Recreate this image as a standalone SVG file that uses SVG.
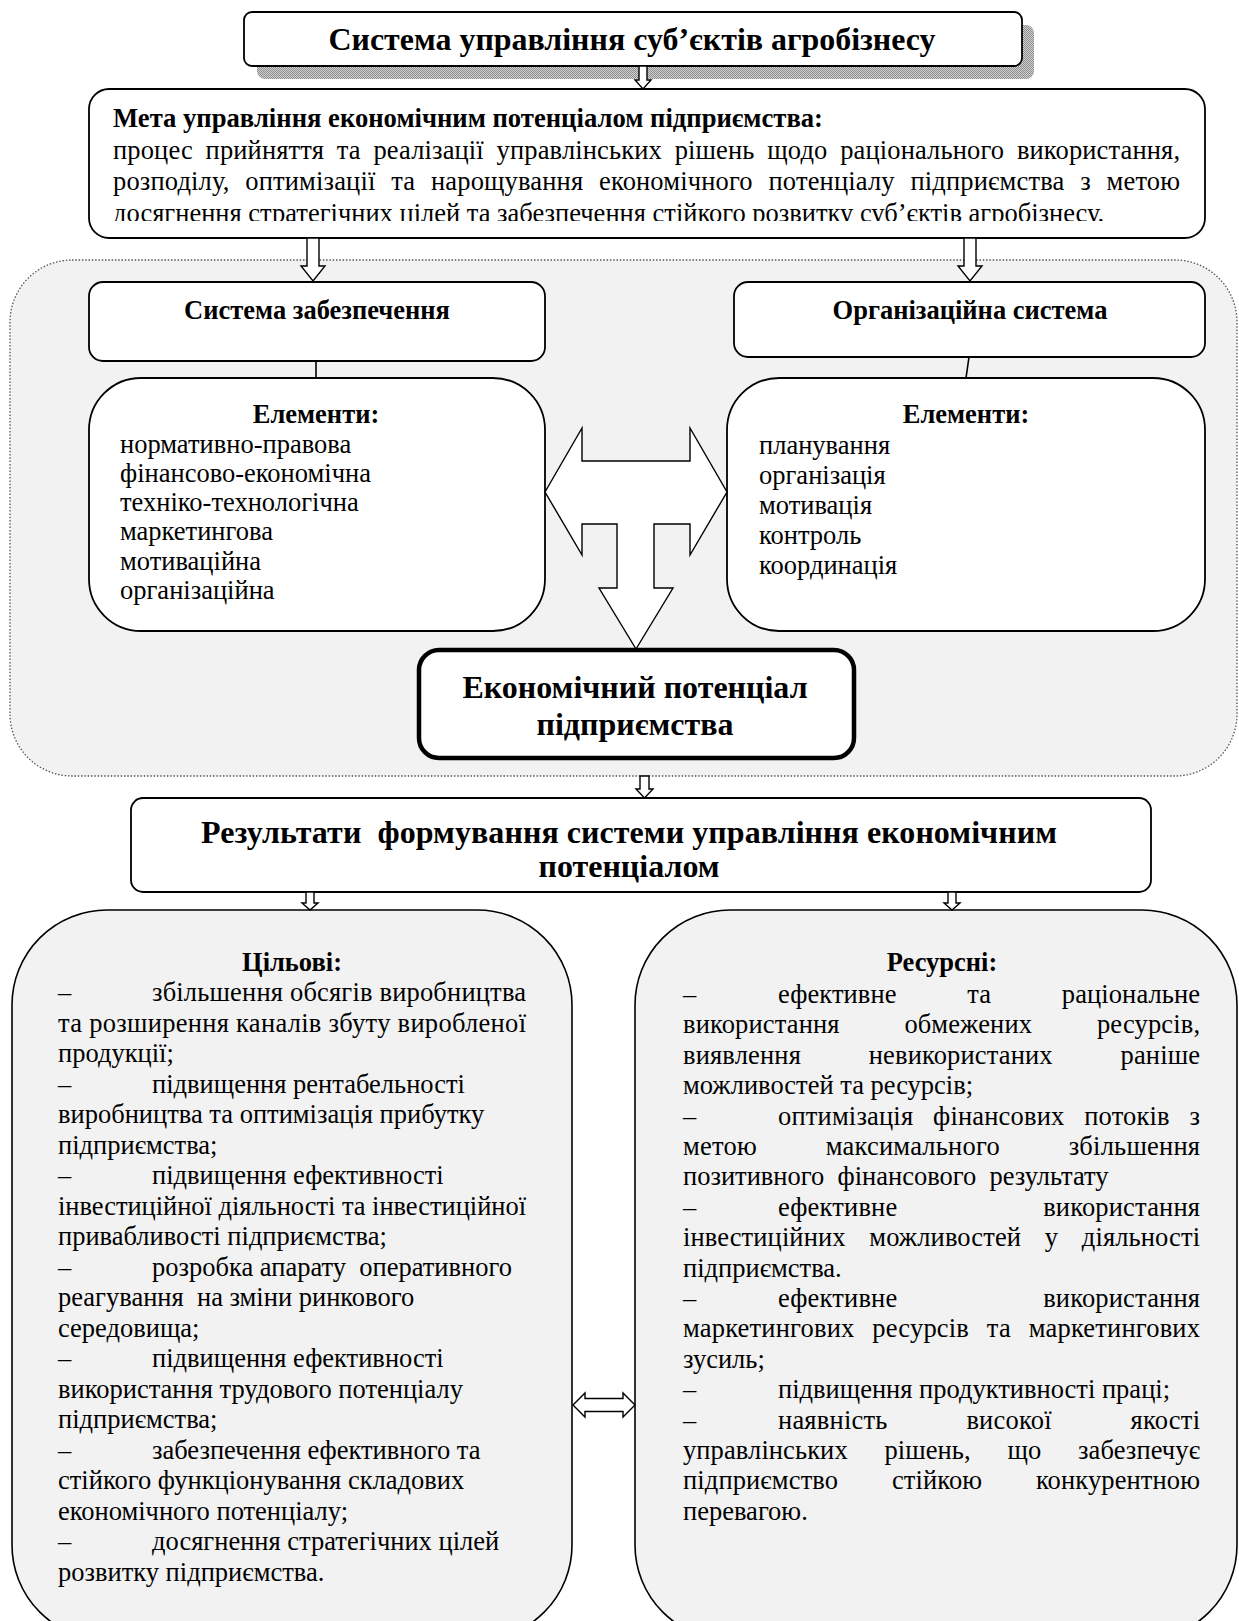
<svg xmlns="http://www.w3.org/2000/svg" width="1239" height="1621" viewBox="0 0 1239 1621">
<style>
.f{font-family:"Liberation Serif","Times New Roman",serif;fill:#000}
.r{font-size:26.5px}
.hb{font-size:26.5px;font-weight:bold}
.h32{font-size:32px;font-weight:bold}
.box{fill:#fff;stroke:#000;stroke-width:1.8}
.gbox{fill:#f2f2f2;stroke:#000;stroke-width:1.6}
.arr{fill:#fff;stroke:#000;stroke-width:1.4;stroke-linejoin:miter}
.ln{fill:none;stroke:#000;stroke-width:1.6}
.pre{white-space:pre}
.m{text-anchor:middle}
.e{text-anchor:end}
</style>
<defs>
<pattern id="half" width="2" height="2" patternUnits="userSpaceOnUse">
<rect width="2" height="2" fill="#d2d2d2"/>
<rect width="1" height="1" fill="#8c8c8c"/>
<rect x="1" y="1" width="1" height="1" fill="#8c8c8c"/>
</pattern>
<clipPath id="metaClip"><rect x="89" y="89" width="1116" height="132"/></clipPath>
</defs>

<g id="container">
<rect x="10" y="260" width="1227" height="516" rx="62" fill="#f2f2f2" stroke="#555" stroke-width="1.3" stroke-dasharray="1.5 1.8"/>
</g>

<g id="title">
<rect x="257" y="25" width="777" height="54" rx="8" fill="url(#half)"/>
<rect class="box" x="244" y="12" width="778" height="54" rx="8"/>
<text class="f h32 m" x="632" y="50" textLength="607" lengthAdjust="spacingAndGlyphs">Система управління суб’єктів агробізнесу</text>
</g>

<g id="meta">
<rect class="box" x="89" y="89" width="1116" height="149" rx="20"/>
<g clip-path="url(#metaClip)">
<text class="f hb" x="113" y="127" textLength="710" lengthAdjust="spacingAndGlyphs">Мета управління економічним потенціалом підприємства:</text>
<text class="f r" x="113" y="159" textLength="1067" lengthAdjust="spacing" style="word-spacing:6px">процес прийняття та реалізації управлінських рішень щодо раціонального використання,</text>
<text class="f r" x="113" y="190" textLength="1067" lengthAdjust="spacing" style="word-spacing:9px">розподілу, оптимізації та нарощування економічного потенціалу підприємства з метою</text>
<text class="f r" x="113" y="222">досягнення стратегічних цілей та забезпечення стійкого розвитку суб’єктів агробізнесу.</text>
</g>
</g>

<g id="sys-zabezp">
<rect class="box" x="89" y="282" width="456" height="79" rx="14"/>
<text class="f hb m" x="317" y="319">Система забезпечення</text>
</g>

<g id="sys-org">
<rect class="box" x="734" y="282" width="471" height="75" rx="14"/>
<text class="f hb m" x="970" y="319">Організаційна система</text>
</g>

<g id="elem-left">
<rect class="box" x="89" y="378" width="456" height="253" rx="52"/>
<text class="f hb m" x="316" y="423">Елементи:</text>
<text class="f r" x="120" y="453">нормативно-правова</text>
<text class="f r" x="120" y="482">фінансово-економічна</text>
<text class="f r" x="120" y="511">техніко-технологічна</text>
<text class="f r" x="120" y="540">маркетингова</text>
<text class="f r" x="120" y="570">мотиваційна</text>
<text class="f r" x="120" y="599">організаційна</text>
</g>

<g id="elem-right">
<rect class="box" x="727" y="378" width="478" height="253" rx="52"/>
<text class="f hb m" x="966" y="423">Елементи:</text>
<text class="f r" x="759" y="454">планування</text>
<text class="f r" x="759" y="484">організація</text>
<text class="f r" x="759" y="514">мотивація</text>
<text class="f r" x="759" y="544">контроль</text>
<text class="f r" x="759" y="574">координація</text>
</g>

<g id="potential">
<rect x="419" y="650" width="435" height="108" rx="20" fill="#fff" stroke="#000" stroke-width="4.5"/>
<text class="f h32 m" x="635" y="698">Економічний потенціал</text>
<text class="f h32 m" x="635" y="735">підприємства</text>
</g>

<g id="results">
<rect class="box" x="131" y="798" width="1020" height="94" rx="12"/>
<text class="f h32" x="201" y="843" textLength="856" lengthAdjust="spacing" style="white-space:pre">Результати  формування системи управління економічним</text>
<text class="f h32 m" x="629" y="877">потенціалом</text>
</g>

<g id="tsilovi">
<rect class="gbox" x="12" y="910" width="560" height="730" rx="95"/>
<text class="f hb m" x="292" y="971">Цільові:</text>
<text class="f r" x="58" y="1001">–</text>
<text class="f r" x="152" y="1001" textLength="374" lengthAdjust="spacing">збільшення обсягів виробництва</text>
<text class="f r" x="58" y="1031.5" textLength="468" lengthAdjust="spacing">та розширення каналів збуту виробленої</text>
<text class="f r" x="58" y="1062">продукції;</text>
<text class="f r" x="58" y="1092.5">–</text>
<text class="f r" x="152" y="1092.5">підвищення рентабельності</text>
<text class="f r" x="58" y="1123">виробництва та оптимізація прибутку</text>
<text class="f r" x="58" y="1153.5">підприємства;</text>
<text class="f r" x="58" y="1184">–</text>
<text class="f r" x="152" y="1184">підвищення ефективності</text>
<text class="f r" x="58" y="1214.5" textLength="468" lengthAdjust="spacing">інвестиційної діяльності та інвестиційної</text>
<text class="f r" x="58" y="1245">привабливості підприємства;</text>
<text class="f r" x="58" y="1275.5">–</text>
<text class="f r pre" x="152" y="1275.5">розробка апарату  оперативного</text>
<text class="f r pre" x="58" y="1306">реагування  на зміни ринкового</text>
<text class="f r" x="58" y="1336.5">середовища;</text>
<text class="f r" x="58" y="1367">–</text>
<text class="f r" x="152" y="1367">підвищення ефективності</text>
<text class="f r" x="58" y="1397.5">використання трудового потенціалу</text>
<text class="f r" x="58" y="1428">підприємства;</text>
<text class="f r" x="58" y="1458.5">–</text>
<text class="f r" x="152" y="1458.5">забезпечення ефективного та</text>
<text class="f r" x="58" y="1489">стійкого функціонування складових</text>
<text class="f r" x="58" y="1519.5">економічного потенціалу;</text>
<text class="f r" x="58" y="1550">–</text>
<text class="f r" x="152" y="1550">досягнення стратегічних цілей</text>
<text class="f r" x="58" y="1580.5">розвитку підприємства.</text>
</g>

<g id="resursni">
<rect class="gbox" x="635" y="910" width="602" height="730" rx="95"/>
<text class="f hb m" x="942" y="971">Ресурсні:</text>
<text class="f r" x="683" y="1003">–</text>
<text class="f r" x="778" y="1003" textLength="422" lengthAdjust="spacing" style="word-spacing:64px">ефективне та раціональне</text>
<text class="f r" x="683" y="1033.4" textLength="517" lengthAdjust="spacing" style="word-spacing:58px">використання обмежених ресурсів,</text>
<text class="f r" x="683" y="1063.8" textLength="517" lengthAdjust="spacing" style="word-spacing:61px">виявлення невикористаних раніше</text>
<text class="f r" x="683" y="1094.2">можливостей та ресурсів;</text>
<text class="f r" x="683" y="1124.6">–</text>
<text class="f r" x="778" y="1124.6" textLength="422" lengthAdjust="spacing" style="word-spacing:13px">оптимізація фінансових потоків з</text>
<text class="f r" x="683" y="1155" textLength="517" lengthAdjust="spacing" style="word-spacing:62px">метою максимального збільшення</text>
<text class="f r pre" x="683" y="1185.4">позитивного  фінансового  результату</text>
<text class="f r" x="683" y="1215.8">–</text>
<text class="f r" x="778" y="1215.8" textLength="422" lengthAdjust="spacing" style="word-spacing:139px">ефективне використання</text>
<text class="f r" x="683" y="1246.2" textLength="517" lengthAdjust="spacing" style="word-spacing:17px">інвестиційних можливостей у діяльності</text>
<text class="f r" x="683" y="1276.6">підприємства.</text>
<text class="f r" x="683" y="1307">–</text>
<text class="f r" x="778" y="1307" textLength="422" lengthAdjust="spacing" style="word-spacing:139px">ефективне використання</text>
<text class="f r" x="683" y="1337.4" textLength="517" lengthAdjust="spacing" style="word-spacing:11px">маркетингових ресурсів та маркетингових</text>
<text class="f r" x="683" y="1367.8">зусиль;</text>
<text class="f r" x="683" y="1398.2">–</text>
<text class="f r" x="778" y="1398.2">підвищення продуктивності праці;</text>
<text class="f r" x="683" y="1428.6">–</text>
<text class="f r" x="778" y="1428.6" textLength="422" lengthAdjust="spacing" style="word-spacing:72px">наявність високої якості</text>
<text class="f r" x="683" y="1459" textLength="517" lengthAdjust="spacing" style="word-spacing:30px">управлінських рішень, що забезпечує</text>
<text class="f r" x="683" y="1489.4" textLength="517" lengthAdjust="spacing" style="word-spacing:47px">підприємство стійкою конкурентною</text>
<text class="f r" x="683" y="1519.8">перевагою.</text>
</g>

<g id="connectors">
<path class="arr" d="M639,66 L647,66 L647,80 L651,80 L643,89 L635,80 L639,80 Z"/>
<path class="arr" d="M307,238 L319,238 L319,266 L325,266 L313,281 L301,266 L307,266 Z"/>
<path class="arr" d="M964,238 L976,238 L976,266 L982,266 L970,281 L958,266 L964,266 Z"/>
<line class="ln" x1="316" y1="361" x2="316" y2="378"/>
<line class="ln" x1="969" y1="357" x2="966" y2="378"/>
<path class="arr" stroke-width="1.6" d="M545,492 L582,428 L582,461 L690,461 L690,428 L727,492 L690,555 L690,524 L654,524 L654,588 L673,588 L636,649 L599,588 L617,588 L617,524 L582,524 L582,555 Z"/>
<path class="arr" d="M640,776 L649,776 L649,789 L653,789 L644.5,798 L636,789 L640,789 Z"/>
<path class="arr" d="M306,892 L314,892 L314,903 L318,903 L310,910 L302,903 L306,903 Z"/>
<path class="arr" d="M948,892 L956,892 L956,903 L960,903 L952,910 L944,903 L948,903 Z"/>
<path class="arr" d="M573,1405 L585,1393 L585,1398.5 L623,1398.5 L623,1393 L635,1405 L623,1417 L623,1411.5 L585,1411.5 L585,1417 Z"/>
</g>
</svg>
